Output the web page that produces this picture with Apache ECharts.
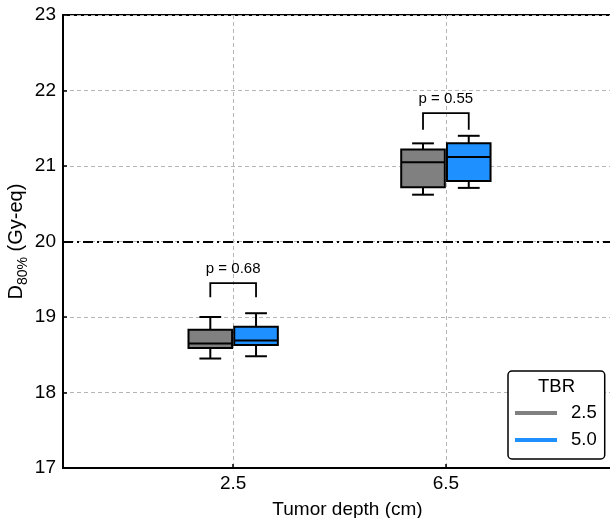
<!DOCTYPE html>
<html>
<head>
<meta charset="utf-8">
<script src="https://cdn.jsdelivr.net/npm/echarts@6/dist/echarts.min.js"></script>
<style>
  html, body { margin: 0; padding: 0; background: #fff; }
  #chart { width: 610px; height: 518px; }
</style>
</head>
<body>
<div id="chart"></div>
<script>
// tumor depths (cm)
const depths = [2.5, 6.5];
// box stats per depth: [min, q1, median, q3, max]
const tbr25 = [
  [18.45, 18.59, 18.65, 18.83, 19.0],
  [20.62, 20.72, 21.05, 21.22, 21.30]
];
const tbr50 = [
  [18.48, 18.63, 18.69, 18.87, 19.05],
  [20.71, 20.80, 21.12, 21.30, 21.40]
];
// p-value brackets: [depth, top, legBottom]
const brackets = [
  [2.5, 19.45, 19.26],
  [6.5, 21.70, 21.48]
];
const pLabels = ['p = 0.68', 'p = 0.55'];
const yTicks = [17, 18, 19, 20, 21, 22, 23];
const refLine = 20;

const FONT = 'Liberation Sans, Arial, sans-serif';
const chart = echarts.init(document.getElementById('chart'));

// offset of each hue box from the depth center (x units)
const OFFSET = 0.43;
const HALF = 0.41;

function boxRenderer(shift, color) {
  return function (params, api) {
    const x = api.value(0) + shift;
    const lo = api.coord([x - HALF, api.value(2)]);
    const hi = api.coord([x + HALF, api.value(4)]);
    const mid = api.coord([x, api.value(3)]);
    const wMin = api.coord([x, api.value(1)]);
    const wMax = api.coord([x, api.value(5)]);
    const capHalf = (hi[0] - lo[0]) / 4;
    const line = { stroke: '#000', lineWidth: 2 };
    return {
      type: 'group',
      children: [
        { type: 'line', shape: { x1: mid[0], y1: hi[1], x2: mid[0], y2: wMax[1] }, style: line },
        { type: 'line', shape: { x1: mid[0], y1: lo[1], x2: mid[0], y2: wMin[1] }, style: line },
        { type: 'line', shape: { x1: mid[0] - capHalf, y1: wMax[1], x2: mid[0] + capHalf, y2: wMax[1] }, style: line },
        { type: 'line', shape: { x1: mid[0] - capHalf, y1: wMin[1], x2: mid[0] + capHalf, y2: wMin[1] }, style: line },
        { type: 'rect', shape: { x: lo[0], y: hi[1], width: hi[0] - lo[0], height: lo[1] - hi[1] },
          style: { fill: color, stroke: '#000', lineWidth: 2 } },
        { type: 'line', shape: { x1: lo[0], y1: mid[1], x2: hi[0], y2: mid[1] }, style: line }
      ]
    };
  };
}

const boxData25 = depths.map((d, i) => [d].concat(tbr25[i]));
const boxData50 = depths.map((d, i) => [d].concat(tbr50[i]));
const bracketData = brackets.map((b, i) => b.concat([i]));

const option = {
  animation: false,
  backgroundColor: '#fff',
  // plot area runs past the right edge of the picture
  grid: {
    left: 63, width: 569, top: 15, bottom: 50,
    outerBoundsMode: 'none',
    containLabel: false,
    show: true, borderColor: '#000', borderWidth: 2
  },
  xAxis: {
    type: 'value',
    min: -0.7,
    max: 10,
    name: 'Tumor depth (cm)',
    nameLocation: 'middle',
    nameGap: 32,
    nameMoveOverlap: false,
    nameTextStyle: { fontFamily: FONT, fontSize: 19, color: '#000' },
    axisLine: { onZero: false, lineStyle: { color: '#000', width: 2 } },
    axisTick: { inside: true, length: 4, customValues: depths, lineStyle: { color: '#000', width: 1.5 } },
    axisLabel: { customValues: depths, fontFamily: FONT, fontSize: 19, color: '#000', margin: 6,
      formatter: v => v.toFixed(1) },
    splitLine: { show: true, lineStyle: { color: '#b5b5b5', type: [4, 3], width: 1 } }
  },
  yAxis: {
    type: 'value',
    min: 17,
    max: 23,
    interval: 1,
    name: '{d|D}{s|80%}{d| (Gy-eq)}',
    nameLocation: 'middle',
    nameGap: 37,
    nameMoveOverlap: false,
    nameTextStyle: {
      fontFamily: FONT, fontSize: 20, color: '#000',
      rich: {
        d: { fontFamily: FONT, fontSize: 20, color: '#000', lineHeight: 24, verticalAlign: 'bottom' },
        s: { fontFamily: FONT, fontSize: 14, color: '#000', lineHeight: 24, verticalAlign: 'bottom', padding: [0, 0, -4, 0] }
      }
    },
    axisLine: { onZero: false, lineStyle: { color: '#000', width: 2 } },
    axisTick: { inside: true, length: 4, lineStyle: { color: '#000', width: 1.5 } },
    axisLabel: { fontFamily: FONT, fontSize: 19, color: '#000', margin: 7,
      customValues: yTicks },
    splitLine: { show: true, lineStyle: { color: '#b5b5b5', type: [4, 3], width: 1 } }
  },
  legend: {
    left: 508,
    top: 371,
    orient: 'vertical',
    data: ['2.5', '5.0'],
    icon: 'rect',
    itemWidth: 42,
    itemHeight: 4,
    itemGap: 7,
    padding: [32, 8, 9, 7],
    borderColor: '#000',
    borderWidth: 1.5,
    borderRadius: 4,
    backgroundColor: '#fff',
    textStyle: { fontFamily: FONT, fontSize: 18.5, color: '#000', lineHeight: 20, padding: [0, 0, 0, 9] }
  },
  graphic: [{
    type: 'text',
    x: 556.5,
    y: 387,
    z: 100,
    style: { text: 'TBR', font: '18.5px ' + FONT, fill: '#000', align: 'center', verticalAlign: 'middle' }
  }],
  series: [
    {
      name: '2.5',
      type: 'custom',
      color: '#808080',
      itemStyle: { color: '#808080' },
      renderItem: boxRenderer(-OFFSET, '#808080'),
      encode: { x: 0, y: [1, 2, 3, 4, 5] },
      data: boxData25,
      markLine: {
        silent: true,
        symbol: 'none',
        label: { show: false },
        lineStyle: { color: '#000', width: 1.8, type: [10, 4, 2, 4] },
        data: [{ yAxis: refLine }]
      },
      z: 5
    },
    {
      name: '5.0',
      type: 'custom',
      color: '#1e90ff',
      itemStyle: { color: '#1e90ff' },
      renderItem: boxRenderer(OFFSET, '#1e90ff'),
      encode: { x: 0, y: [1, 2, 3, 4, 5] },
      data: boxData50,
      z: 5
    },
    {
      name: 'p-values',
      type: 'custom',
      renderItem: function (params, api) {
        const x = api.value(0);
        const left = api.coord([x - OFFSET, api.value(1)]);
        const right = api.coord([x + OFFSET, api.value(1)]);
        const leg = api.coord([x, api.value(2)]);
        const line = { stroke: '#000', lineWidth: 1.8, fill: null };
        return {
          type: 'group',
          children: [
            { type: 'polyline', shape: { points: [[left[0], leg[1]], [left[0], left[1]], [right[0], right[1]], [right[0], leg[1]]] }, style: line },
            { type: 'text', x: (left[0] + right[0]) / 2, y: left[1] - 14,
              style: { text: pLabels[api.value(3)], font: '15px ' + FONT, fill: '#000', align: 'center', verticalAlign: 'middle' } }
          ]
        };
      },
      encode: { x: 0, y: [1, 2] },
      data: bracketData,
      z: 5
    }
  ]
};

chart.setOption(option);
</script>
</body>
</html>
